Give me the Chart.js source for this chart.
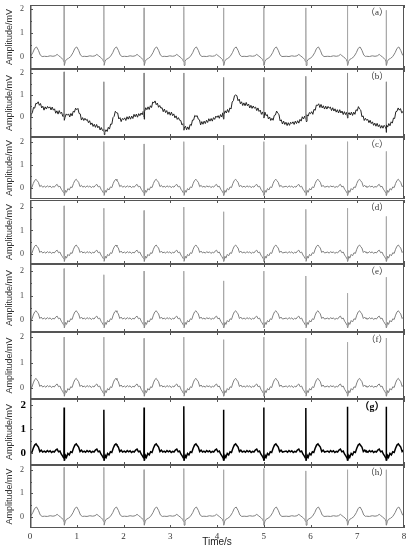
<!DOCTYPE html>
<html>
<head>
<meta charset="utf-8">
<script src="https://cdn.jsdelivr.net/npm/chart.js@4.4.1/dist/chart.umd.min.js"></script>
<style>
  html, body { margin: 0; padding: 0; background: #fff; }
  #wrap { position: relative; width: 412px; height: 550px; overflow: hidden; }
  #wrap canvas { position: absolute; left: 0; }
</style>
</head>
<body>
<div id="wrap"></div>
<script>
// x ticks (s) and y ticks (mV)
const seconds = [0, 1, 2, 3, 4, 5, 6, 7, 8];
const ampTicks = [0, 1, 2];

// R peak times, shared by all traces (first beat sits just before t = 0)
const rPeaks = [-0.13, 0.73, 1.58, 2.44, 3.29, 4.14, 5.0, 5.9, 6.79, 7.62];

// one beat (a): time from R peak (s) and value (mV), null = R peak
const cleanOffsets = [-0.42, -0.36, -0.30, -0.24, -0.19, -0.15, -0.12, -0.08, -0.05, -0.025, -0.005, 0,
                      0.005, 0.025, 0.05, 0.09, 0.14, 0.19, 0.23, 0.27, 0.31, 0.35, 0.39];
const cleanShape = [0.03, 0.02, 0.05, 0.03, 0.05, 0.11, 0.06, 0.0, -0.05, -0.1, -0.2, null,
                    -0.35, -0.18, -0.1, -0.06, 0.02, 0.18, 0.36, 0.42, 0.28, 0.08, 0.02];

// one beat (c)-(g)
const noisyOffsets = [-0.42, -0.39, -0.36, -0.33, -0.30, -0.27, -0.24, -0.21, -0.18, -0.15, -0.12, -0.09,
                      -0.06, -0.035, -0.005, 0, 0.005, 0.03, 0.05, 0.08, 0.11, 0.14, 0.17, 0.20, 0.23,
                      0.26, 0.28, 0.31, 0.34, 0.37, 0.40];
const noisyShape = [0.08, 0.03, 0.10, 0.05, 0.09, 0.02, 0.07, 0.04, 0.12, 0.16, 0.05, 0.08,
                    -0.05, -0.12, -0.22, null, -0.32, -0.1, -0.18, -0.02, -0.08, 0.05, 0.02, 0.2, 0.33,
                    0.38, 0.32, 0.25, 0.06, 0.12, 0.04];

// R peak heights per beat (mV)
const rHeightA = [2.0, 2.15, 2.15, 2.05, 2.1, 2.05, 2.1, 2.05, 2.15, 1.95];
const rHeightC = [2.0, 2.15, 2.0, 1.9, 2.0, 1.85, 2.0, 1.87, 2.0, 1.58];
const rHeightD = [2.0, 2.05, 1.95, 1.85, 2.0, 1.8, 1.95, 1.9, 1.95, 1.6];
const rHeightE = [2.0, 2.1, 1.85, 2.0, 2.0, 1.6, 2.0, 1.8, 1.1, 1.75];
const rHeightF = [2.0, 2.0, 2.0, 1.95, 2.0, 1.9, 2.0, 1.96, 1.8, 1.96];
const rHeightG = [2.0, 1.9, 1.8, 1.9, 1.95, 1.8, 1.9, 1.87, 1.93, 1.93];
const rHeightH = [2.0, 2.1, 2.1, 2.0, 2.05, 2.0, 2.05, 1.95, 2.0, 2.0];

// trace (b) with baseline wander and noise, read every 0.025 s from 0 to 8 s (one row = 0.5 s)
const stepB = 0.025;
const traceB = [
  -0.15, 0.12, 0.19, 0.43, 0.40, 0.62, 0.60, 0.69, 0.53, 0.61, 0.41, 0.49, 0.31, 0.46, 0.36, 0.48, 0.40, 0.46, 0.32, 0.45,
  0.31, 0.37, 0.17, 0.28, 0.13, 0.29, 0.16, 0.22, 0.03, 0.14, -0.01, 0.14, 0.08, 0.14, 0.00, 0.16, 0.05, 0.26, 0.22, 0.40,
  0.33, 0.39, 0.16, 0.14, -0.14, -0.03, -0.16, -0.06, -0.15, -0.11, -0.26, -0.17, -0.35, -0.27, -0.43, -0.33, -0.47, -0.34, -0.49, -0.42,
  -0.59, -0.48, -0.61, -0.56, -0.70, -0.58, -0.66, -0.47, -0.55, -0.32, -0.33, -0.03, 0.03, 0.26, 0.19, 0.18, -0.09, -0.03, -0.21, -0.07,
  -0.12, -0.04, -0.16, 0.01, -0.10, 0.03, -0.10, 0.04, -0.07, 0.12, 0.01, 0.13, -0.01, 0.15, 0.06, 0.18, 0.10, 0.27, 0.24, 0.42,
  0.33, 0.46, 0.34, 0.51, 0.43, 0.68, 0.64, 0.73, 0.56, 0.63, 0.44, 0.52, 0.40, 0.42, 0.24, 0.36, 0.20, 0.29, 0.12, 0.23,
  0.08, 0.22, 0.06, 0.14, -0.04, 0.05, -0.11, -0.03, -0.15, -0.16, -0.36, -0.30, -0.50, -0.42, -0.58, -0.45, -0.57, -0.34, -0.39, -0.14,
  -0.14, 0.07, 0.02, 0.06, -0.10, -0.13, -0.36, -0.21, -0.33, -0.19, -0.30, -0.15, -0.25, -0.08, -0.19, -0.07, -0.19, -0.03, -0.11, 0.04,
  -0.02, 0.06, -0.06, 0.11, 0.00, 0.19, 0.12, 0.28, 0.18, 0.34, 0.21, 0.41, 0.36, 0.68, 0.74, 0.97, 1.00, 0.97, 0.74, 0.81,
  0.60, 0.69, 0.52, 0.64, 0.51, 0.66, 0.51, 0.59, 0.41, 0.53, 0.39, 0.50, 0.40, 0.45, 0.29, 0.41, 0.25, 0.31, 0.12, 0.23,
  0.08, 0.22, 0.06, 0.11, -0.09, 0.00, -0.16, -0.06, -0.15, 0.07, 0.09, 0.27, 0.17, 0.12, -0.18, -0.13, -0.32, -0.19, -0.34, -0.24,
  -0.39, -0.26, -0.38, -0.24, -0.30, -0.22, -0.34, -0.19, -0.30, -0.17, -0.28, -0.11, -0.19, 0.01, -0.09, 0.04, -0.09, 0.10, 0.04, 0.20,
  0.15, 0.24, 0.12, 0.35, 0.30, 0.54, 0.52, 0.60, 0.43, 0.57, 0.41, 0.51, 0.36, 0.49, 0.36, 0.48, 0.40, 0.45, 0.29, 0.42,
  0.27, 0.37, 0.22, 0.33, 0.18, 0.33, 0.18, 0.27, 0.11, 0.24, 0.11, 0.21, 0.10, 0.20, 0.09, 0.22, 0.07, 0.22, 0.12, 0.33,
  0.28, 0.47, 0.36, 0.31, 0.01, 0.05, -0.16, -0.06, -0.15, -0.11, -0.26, -0.15, -0.30, -0.22, -0.38, -0.28, -0.42, -0.29, -0.44, -0.35,
  -0.51, -0.39, -0.51, -0.38, -0.45, -0.36, -0.46, -0.30, -0.40, -0.22, -0.28, -0.05, -0.07, 0.24, 0.26, 0.41, 0.31, 0.38, 0.19, 0.24,
  0.08
];
// QRS of trace (b) for the visible beats: Q, R, S values (mV)
const qB = [0.0, -0.65, 0.0, -0.5, -0.05, 0.05, -0.1, 0.05, -0.55];
const rB = [2.05, 1.6, 2.0, 2.0, 1.8, 1.8, 1.85, 2.0, 1.6];
const sB = [-0.15, -0.8, -0.1, -0.6, -0.1, -0.05, -0.2, -0.05, -0.7];

const SERIF = "'Liberation Serif', 'DejaVu Serif', serif";
const SANS = "'Liberation Sans', Arial, sans-serif";

function beatSeries(offsets, shape, heights) {
    const pts = [];
    rPeaks.forEach((r, i) => {
        offsets.forEach((o, k) => {
            pts.push({ x: r + o, y: shape[k] === null ? heights[i] : shape[k] });
        });
    });
    return pts;
}

function seriesB() {
    const pts = traceB.map((v, i) => ({ x: i * stepB, y: v }));
    rPeaks.slice(1).forEach((r, i) => {
        pts.push({ x: r - 0.004, y: qB[i] }, { x: r, y: rB[i] }, { x: r + 0.004, y: sB[i] });
    });
    return pts.sort((p, q) => p.x - q.x);
}

// frame, inward tick marks and the (a)...(h) tag
const framePlugin = {
    id: 'frame',
    afterDatasetsDraw(chart, args, opts) {
        const { ctx, chartArea: a, scales: { x, y } } = chart;
        ctx.save();
        ctx.strokeStyle = '#555';
        ctx.lineWidth = 1;
        ctx.beginPath();
        seconds.forEach(s => {
            const px = Math.round(x.getPixelForValue(s)) + 0.5;
            ctx.moveTo(px, a.top); ctx.lineTo(px, a.top + 3);
            ctx.moveTo(px, a.bottom); ctx.lineTo(px, a.bottom - 3);
        });
        [-0.5, 0, 0.5, 1, 1.5, 2].forEach(v => {
            if (v < y.min || v > y.max) return;
            const py = Math.round(y.getPixelForValue(v)) + 0.5;
            ctx.moveTo(a.left, py); ctx.lineTo(a.left + (Number.isInteger(v) ? 3 : 2), py);
        });
        ctx.stroke();
        ctx.strokeRect(a.left + 0.5, a.top + 0.5, a.right - a.left - 1, a.bottom - a.top - 1);
        ctx.lineWidth = 1.5;
        ctx.beginPath();
        ctx.moveTo(a.left + 0.75, a.top); ctx.lineTo(a.left + 0.75, a.bottom);
        ctx.stroke();

        ctx.fillStyle = opts.bold ? '#000' : '#333';
        ctx.font = (opts.bold ? 'bold 10px ' : '9px ') + SERIF + ", 'Noto Sans CJK SC'";
        ctx.textAlign = 'center';
        ctx.textBaseline = 'middle';
        ctx.fillText(opts.tag, a.right - (opts.bold ? 32 : 27), a.top + 8);
        ctx.restore();
    }
};

const panels = [
    { tag: '（a）', top: 5, bottom: 69, min: -0.5, max: 2.17, data: beatSeries(cleanOffsets, cleanShape, rHeightA), color: '#808080', spike: '#a8a8a8', width: 1 },
    { tag: '（b）', top: 69, bottom: 137, min: -0.91, max: 2.18, data: seriesB(), color: '#222', spike: '#8c8c8c', width: 1 },
    { tag: '（c）', top: 137, bottom: 199, min: -0.47, max: 2.2, data: beatSeries(noisyOffsets, noisyShape, rHeightC), color: '#808080', spike: '#a8a8a8', width: 1 },
    { tag: '（d）', top: 200, bottom: 264, min: -0.43, max: 2.3, data: beatSeries(noisyOffsets, noisyShape, rHeightD), color: '#808080', spike: '#a8a8a8', width: 1 },
    { tag: '（e）', top: 264, bottom: 332, min: -0.49, max: 2.29, data: beatSeries(noisyOffsets, noisyShape, rHeightE), color: '#808080', spike: '#a8a8a8', width: 1 },
    { tag: '（f）', top: 332, bottom: 399, min: -0.43, max: 2.2, data: beatSeries(noisyOffsets, noisyShape, rHeightF), color: '#808080', spike: '#a8a8a8', width: 1 },
    { tag: '（g）', top: 399, bottom: 465, min: -0.5, max: 2.25, data: beatSeries(noisyOffsets, noisyShape, rHeightG), color: '#000', spike: '#000', width: 1.5, bold: true },
    { tag: '（h）', top: 465, bottom: 528, min: -0.47, max: 2.2, data: beatSeries(cleanOffsets, cleanShape, rHeightH), color: '#808080', spike: '#a8a8a8', width: 1 }
];

const wrap = document.getElementById('wrap');

panels.forEach((p, idx) => {
    const last = idx === panels.length - 1;
    const canvasTop = p.top - 1;
    const height = last ? 550 - canvasTop : p.bottom - p.top + 2;
    const canvas = document.createElement('canvas');
    canvas.width = 412;
    canvas.height = height;
    canvas.style.top = canvasTop + 'px';
    canvas.style.width = '412px';
    canvas.style.height = height + 'px';
    wrap.appendChild(canvas);

    new Chart(canvas.getContext('2d'), {
        type: 'line',
        data: {
            datasets: [{
                data: p.data,
                borderColor: p.color,
                borderWidth: p.width,
                pointRadius: 0,
                tension: 0,
                fill: false,
                // the thin R spikes print lighter than the rest of the trace
                segment: {
                    borderColor: c => Math.abs(c.p1.parsed.y - c.p0.parsed.y) > 0.9 ? p.spike : undefined
                }
            }]
        },
        plugins: [framePlugin],
        options: {
            responsive: false,
            animation: false,
            events: [],
            layout: { padding: { top: 1, bottom: last ? 0 : 1, left: 0, right: 8 } },
            plugins: {
                legend: { display: false },
                tooltip: { enabled: false },
                frame: { tag: p.tag, bold: !!p.bold }
            },
            scales: {
                x: {
                    type: 'linear',
                    min: 0,
                    max: 8,
                    display: last,
                    afterBuildTicks: s => { s.ticks = seconds.map(v => ({ value: v })); },
                    afterFit: s => {
                        s.height = last ? 22 : 0;
                        s.paddingLeft = 0; s.paddingRight = 0;
                    },
                    grid: { display: false, drawTicks: false },
                    border: { display: false },
                    ticks: { font: { family: SERIF, size: 9 }, color: '#333', padding: 3, maxRotation: 0, autoSkip: false },
                    title: { display: true, text: 'Time/s', font: { family: SANS, size: 10 }, color: '#222', padding: { top: 0, bottom: 2 } }
                },
                y: {
                    type: 'linear',
                    min: p.min,
                    max: p.max,
                    afterBuildTicks: s => { s.ticks = ampTicks.map(v => ({ value: v })); },
                    afterFit: s => {
                        s.width = 30;
                        s.paddingTop = 0; s.paddingBottom = 0;
                    },
                    grid: { display: false, drawTicks: false },
                    border: { display: false },
                    ticks: {
                        font: p.bold ? { family: SERIF, size: 11, weight: 'bold' } : { family: SERIF, size: 8 },
                        color: p.bold ? '#000' : '#444',
                        padding: p.bold ? 4 : 6
                    },
                    title: { display: true, text: 'Amplitude/mV', font: { family: SANS, size: 9 }, color: '#333', padding: { top: 4, bottom: 0 } }
                }
            }
        }
    });
});
</script>
</body>
</html>
